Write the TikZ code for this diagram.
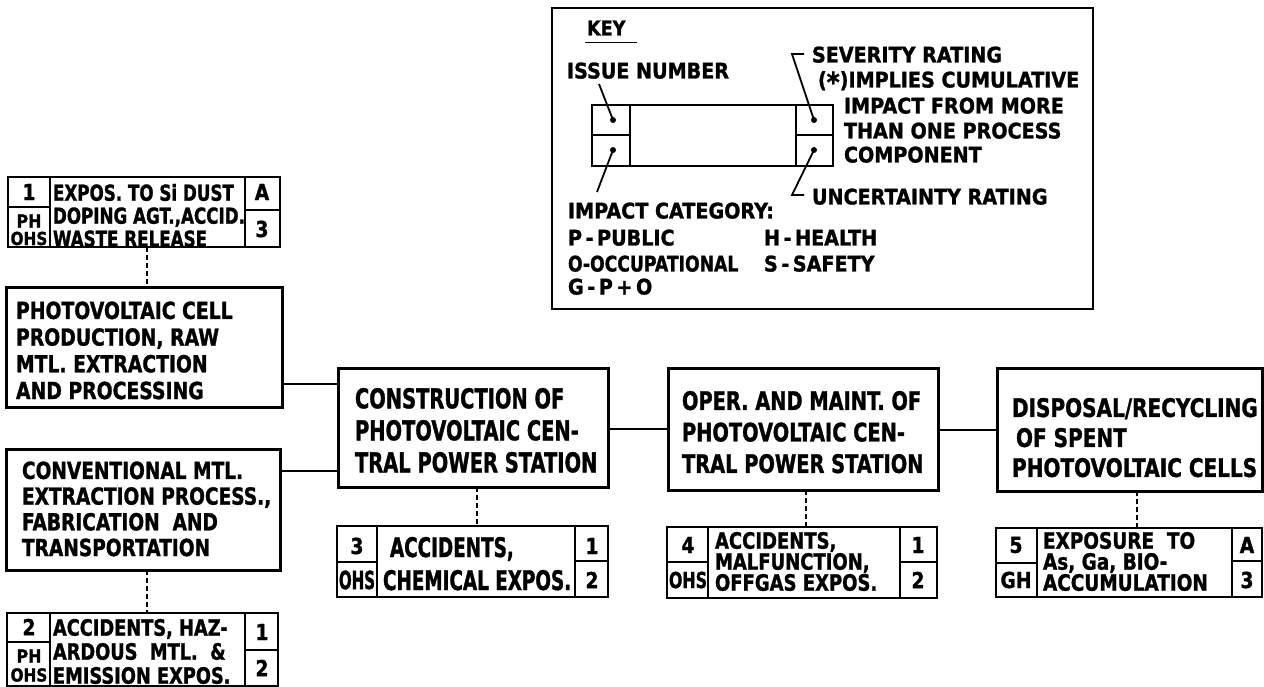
\documentclass[tikz,border=0pt]{standalone}
\usepackage{fontspec}
\setmainfont{DejaVu Sans}
\usetikzlibrary{calc}
\newcommand\lf[3]{\fontsize{#1}{#2}\selectfont\bfseries\addfontfeatures{FakeStretch=#3,FakeBold=1.2}}
\tikzset{
  mainbox/.style={draw, line width=3pt, inner sep=0pt, outer sep=0pt, anchor=north west},
  issuebox/.style={draw, line width=2pt, inner sep=0pt, outer sep=0pt, anchor=north west},
  keyframe/.style={draw, line width=2.2pt, inner sep=0pt, outer sep=0pt, anchor=north west},
  divider/.style={line width=1.8pt},
  solidcon/.style={line width=2.8pt},
  dashcon/.style={line width=2.8pt, dash pattern=on 5pt off 3pt},
  leader/.style={line width=1.8pt},
  dot/.style={circle, fill, inner sep=0pt, minimum size=6pt},
  txt/.style={inner sep=0pt, outer sep=0pt, anchor=base west},
  blk/.style={inner sep=0pt, outer sep=0pt, anchor=north west, align=left},
  cell/.style={inner sep=0pt, outer sep=0pt, anchor=center},
  keytxt/.style={txt, font=\lf{21.5}{25}{0.89}},
  digit/.style={cell, font=\lf{22}{22}{0.85}},
}
\begin{document}
\begin{tikzpicture}[x=1pt,y=-1pt]
\useasboundingbox (0,0) rectangle (1264,687);

% ---------------- KEY ----------------
\node[keyframe, minimum width=541pt, minimum height=301pt] (key) at (552,8) {};
\node[txt, font=\lf{20.5}{24}{0.86}] (keyt) at (587,35.5) {KEY};
\draw[divider] ($(keyt.base west)+(-2,7)$) -- ($(keyt.base west)+(50,7)$);
\node[issuebox, minimum width=241pt, minimum height=61pt] (kb) at (592,105) {};
\draw[divider] (630,105) -- (630,166);
\draw[divider] (796,105) -- (796,166);
\draw[divider] (592,135) -- (630,135);
\draw[divider] (796,135) -- (833,135);
\node[dot] (kd1) at (613,120) {};
\node[dot] (kd3) at (613,150) {};
\node[dot] (kd2) at (814,120) {};
\node[dot] (kd4) at (814,150) {};
\coordinate (kl1) at (599,84);
\coordinate (kl2) at (597,192);
\coordinate (kl3) at (792,54);
\coordinate (kl3b) at (804,54);
\coordinate (kl4) at (792,195);
\coordinate (kl4b) at (804,195);
\draw[leader] (kl1) -- (kd1.center);
\draw[leader] (kd3.center) -- (kl2);
\draw[leader] (kd2.center) -- (kl3) -- (kl3b);
\draw[leader] (kd4.center) -- (kl4) -- (kl4b);
\node[keytxt] (kin) at (567,78.5) {ISSUE NUMBER};
\node[keytxt] (ks1) at (812,62.5) {SEVERITY RATING};
\node[keytxt] (ks2) at (818,87.5) {(\raisebox{-0.22em}{\scalebox{1.3}{*}})IMPLIES CUMULATIVE};
\node[keytxt] (ks3) at (844,113.5) {IMPACT FROM MORE};
\node[keytxt] (ks4) at (844,138.5) {THAN ONE PROCESS};
\node[keytxt] (ks5) at (844,162.5) {COMPONENT};
\node[keytxt] (kun) at (812,204.5) {UNCERTAINTY RATING};
\node[keytxt] (kic) at (568,218.5) {IMPACT CATEGORY:};
\node[keytxt] (kp) at (568,245.5) {P\,-\,PUBLIC};
\node[keytxt] (kh) at (764,245.5) {H\,-\,HEALTH};
\node[keytxt, font=\lf{21.5}{25}{0.8}] (ko) at (568,271.5) {O-OCCUPATIONAL};
\node[keytxt] (ksf) at (764,271.5) {S\,-\,SAFETY};
\node[keytxt] (kg) at (568,294.5) {G\,-\,P\,+\,O};

% ---------------- MAIN BOXES ----------------
\node[mainbox, minimum width=276pt, minimum height=120pt] (A) at (6,287) {};
\node[blk, font=\lf{23.5}{26.7}{0.80}] (At) at (16,301.5) {PHOTOVOLTAIC CELL\\PRODUCTION, RAW\\MTL. EXTRACTION\\AND PROCESSING};
\node[mainbox, minimum width=274pt, minimum height=121pt] (B) at (6,449) {};
\node[blk, font=\lf{23.5}{25.7}{0.79}] (Bt) at (22,461.5) {CONVENTIONAL MTL.\\EXTRACTION PROCESS.,\\FABRICATION\ \ AND\\TRANSPORTATION};
\node[mainbox, minimum width=270pt, minimum height=119pt] (C) at (338,368) {};
\node[blk, font=\lf{27.4}{32}{0.71}] (Ct) at (355,388) {CONSTRUCTION OF\\PHOTOVOLTAIC CEN-\\TRAL POWER STATION};
\node[mainbox, minimum width=270pt, minimum height=122pt] (O) at (668,368) {};
\node[blk, font=\lf{25.5}{31.5}{0.76}] (Ot) at (682,391) {OPER. AND MAINT. OF\\PHOTOVOLTAIC CEN-\\TRAL POWER STATION};
\node[mainbox, minimum width=265pt, minimum height=123pt] (D) at (997,368) {};
\node[blk, font=\lf{25.5}{30}{0.785}] (Dt) at (1012,398) {DISPOSAL/RECYCLING\\\hspace{4pt}OF SPENT\\PHOTOVOLTAIC CELLS};

% ---------------- SOLID CONNECTORS ----------------
\coordinate (h1) at (0,384);
\coordinate (h2) at (0,471);
\coordinate (h3) at (0,429);
\coordinate (h4) at (0,430);
\draw[solidcon] (A.east |- h1) -- (C.west |- h1);
\draw[solidcon] (B.east |- h2) -- (C.west |- h2);
\draw[solidcon] (C.east |- h3) -- (O.west |- h3);
\draw[solidcon] (O.east |- h4) -- (D.west |- h4);

% ---------------- ISSUE 1 ----------------
\node[issuebox, minimum width=272pt, minimum height=70pt] (I1) at (8,177) {};
\draw[divider] (50,177) -- (50,247);
\draw[divider] (245,177) -- (245,247);
\draw[divider] (8,207) -- (50,207);
\draw[divider] (245,210) -- (280,210);
\node[digit] (I1n) at (29,192) {1};
\node[cell, font=\lf{18}{18}{0.88}] (I1c1) at (29,221) {PH};
\node[cell, font=\lf{18}{18}{0.85}] (I1c2) at (29,238.5) {OHS};
\node[blk, font=\lf{22}{23}{0.76}] (I1t) at (53,184) {EXPOS. TO Si DUST\\DOPING AGT.,ACCID.\\WASTE RELEASE};
\node[digit] (I1s) at (262,192) {A};
\node[digit] (I1u) at (262,229) {3};

% ---------------- ISSUE 2 ----------------
\node[issuebox, minimum width=271pt, minimum height=73pt] (I2) at (7,613) {};
\draw[divider] (50,613) -- (50,686);
\draw[divider] (245,613) -- (245,686);
\draw[divider] (7,642) -- (50,642);
\draw[divider] (245,650) -- (278,650);
\node[digit] (I2n) at (29,627) {2};
\node[cell, font=\lf{18}{18}{0.88}] (I2c1) at (29,656) {PH};
\node[cell, font=\lf{18}{18}{0.85}] (I2c2) at (29,675) {OHS};
\node[blk, font=\lf{22.5}{24}{0.79}] (I2t) at (53,619) {ACCIDENTS, HAZ-\\ARDOUS\ \ MTL.\ \ \&\\EMISSION EXPOS.};
\node[digit] (I2s) at (262,632) {1};
\node[digit] (I2u) at (262,668) {2};

% ---------------- ISSUE 3 ----------------
\node[issuebox, minimum width=271pt, minimum height=71pt] (I3) at (337,526) {};
\draw[divider] (377,526) -- (377,597);
\draw[divider] (575,526) -- (575,597);
\draw[divider] (337,562) -- (377,562);
\draw[divider] (575,561) -- (608,561);
\node[digit] (I3n) at (357,546) {3};
\node[cell, font=\lf{25}{25}{0.6}] (I3c) at (357,580) {OHS};
\node[txt, font=\lf{27}{33}{0.68}] (I3t1) at (390,557) {ACCIDENTS,};
\node[txt, font=\lf{27}{33}{0.68}] (I3t2) at (383,590) {CHEMICAL EXPOS.};
\node[digit] (I3s) at (592,546) {1};
\node[digit] (I3u) at (592,580) {2};

% ---------------- ISSUE 4 ----------------
\node[issuebox, minimum width=270pt, minimum height=71pt] (I4) at (667,527) {};
\draw[divider] (708,527) -- (708,598);
\draw[divider] (900,527) -- (900,598);
\draw[divider] (667,562) -- (708,562);
\draw[divider] (900,562) -- (937,562);
\node[digit] (I4n) at (688,545) {4};
\node[cell, font=\lf{22}{22}{0.72}] (I4c) at (688,580) {OHS};
\node[blk, font=\lf{22.5}{21}{0.80}] (I4t) at (715,532) {ACCIDENTS,\\MALFUNCTION,\\OFFGAS\ EXPOS.};
\node[digit] (I4s) at (918,545) {1};
\node[digit] (I4u) at (918,580) {2};

% ---------------- ISSUE 5 ----------------
\node[issuebox, minimum width=266pt, minimum height=69pt] (I5) at (996,528) {};
\draw[divider] (1037,528) -- (1037,597);
\draw[divider] (1232,528) -- (1232,597);
\draw[divider] (996,563) -- (1037,563);
\draw[divider] (1232,561) -- (1262,561);
\node[digit] (I5n) at (1016,545) {5};
\node[cell, font=\lf{22}{22}{0.85}] (I5c) at (1016,580) {GH};
\node[blk, font=\lf{22.5}{21}{0.82}] (I5t) at (1043,532) {EXPOSURE\ \ TO\\As, Ga, BIO-\\ACCUMULATION};
\node[digit] (I5s) at (1247,545) {A};
\node[digit] (I5u) at (1247,580) {3};

% ---------------- DASHED CONNECTORS ----------------
\coordinate (d1) at (147,0);
\coordinate (d2) at (147,0);
\coordinate (d3) at (477,0);
\coordinate (d4) at (806,0);
\coordinate (d5) at (1137,0);
\draw[dashcon] (I1.south -| d1) -- (A.north -| d1);
\draw[dashcon] (B.south -| d2) -- (I2.north -| d2);
\draw[dashcon] (C.south -| d3) -- (I3.north -| d3);
\draw[dashcon] (O.south -| d4) -- (I4.north -| d4);
\draw[dashcon] (D.south -| d5) -- (I5.north -| d5);
\end{tikzpicture}
\end{document}
